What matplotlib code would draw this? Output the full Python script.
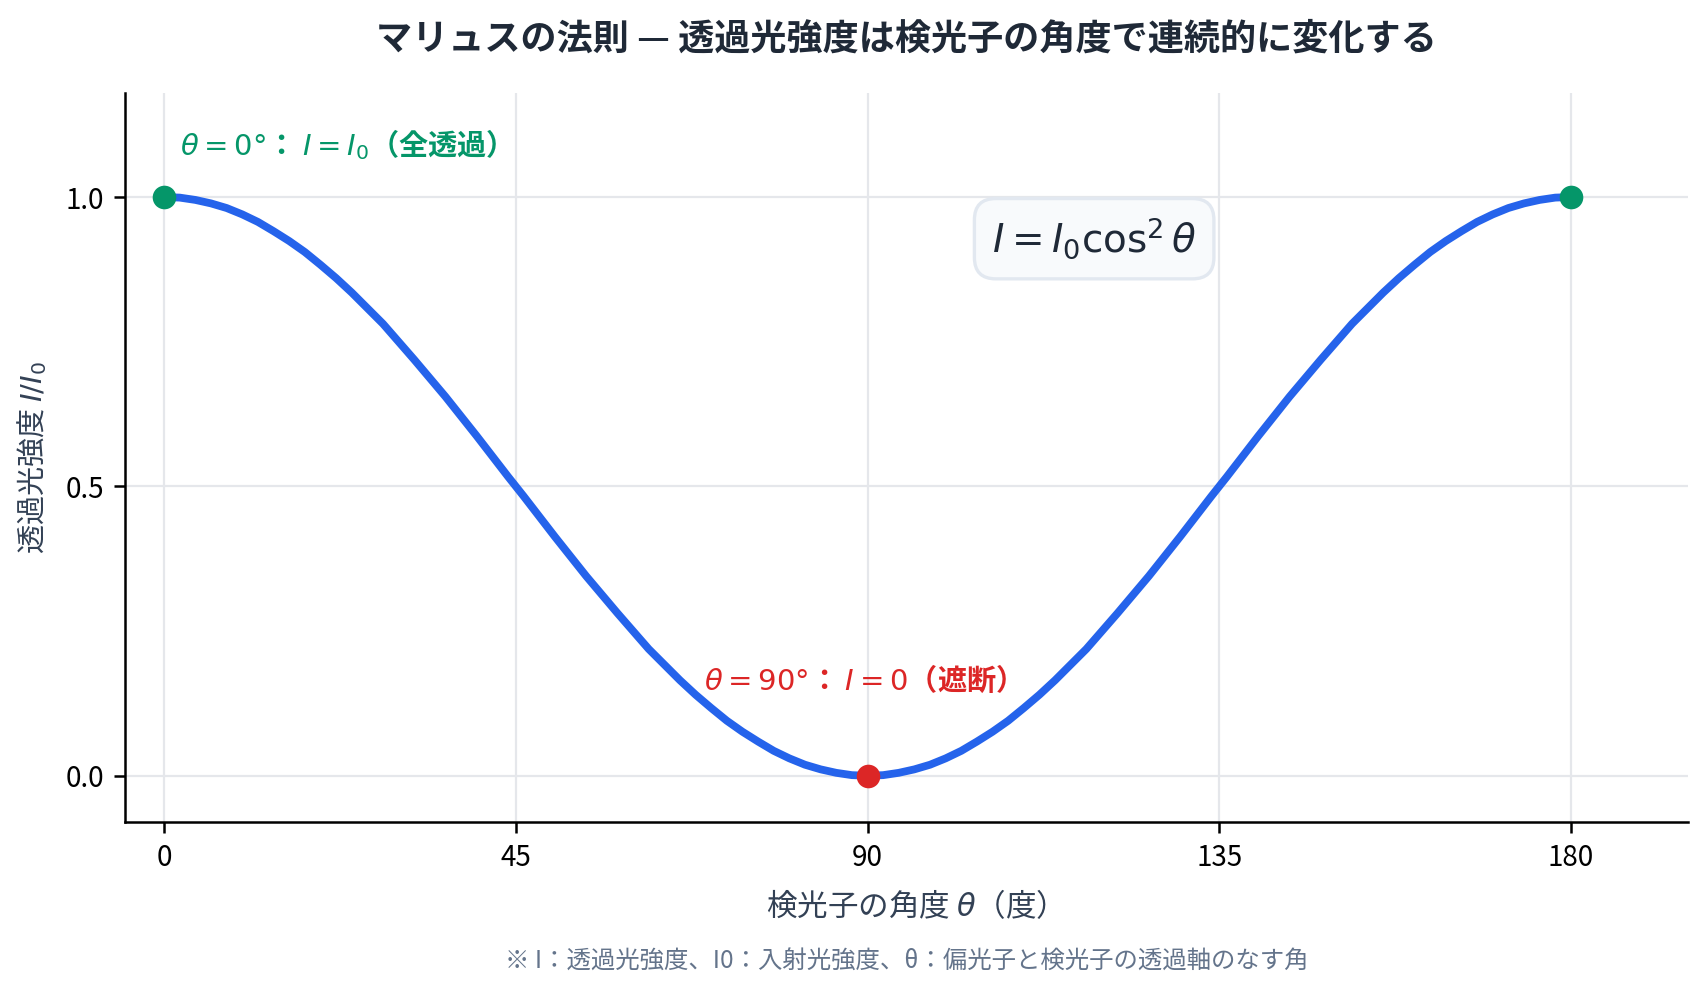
import matplotlib
matplotlib.use('Agg')
import matplotlib.pyplot as plt

plt.rcParams['font.family'] = ['Noto Sans CJK JP', 'DejaVu Sans']
plt.rcParams['mathtext.fontset'] = 'dejavusans'
plt.rcParams['axes.unicode_minus'] = False

# analyser angle (deg), every 2 deg, and transmitted intensity I/I0
angles = list(range(0, 182, 2))
intensity = [1.000, 0.999, 0.995, 0.989, 0.981, 0.970, 0.957, 0.941, 0.924,
             0.905, 0.883, 0.860, 0.835, 0.808, 0.781, 0.750, 0.719, 0.687,
             0.655, 0.621, 0.587, 0.552, 0.517, 0.483, 0.448, 0.413, 0.379,
             0.345, 0.313, 0.281, 0.250, 0.219, 0.192, 0.165, 0.140, 0.117,
             0.095, 0.076, 0.059, 0.043, 0.030, 0.019, 0.011, 0.005, 0.001,
             0.000, 0.001, 0.005, 0.011, 0.019, 0.030, 0.043, 0.059, 0.076,
             0.095, 0.117, 0.140, 0.165, 0.192, 0.219, 0.250, 0.281, 0.313,
             0.345, 0.379, 0.413, 0.448, 0.483, 0.517, 0.552, 0.587, 0.621,
             0.655, 0.687, 0.719, 0.750, 0.781, 0.808, 0.835, 0.860, 0.883,
             0.905, 0.924, 0.941, 0.957, 0.970, 0.981, 0.989, 0.995, 0.999,
             1.000]

max_pts_x = [0, 180]
max_pts_y = [1.0, 1.0]
min_pt_x = [90]
min_pt_y = [0.0]

xticks = [0, 45, 90, 135, 180]
yticks = [0.0, 0.5, 1.0]

BLUE = '#2563eb'
GREEN = '#059669'
RED = '#dc2626'
DARK = '#1f2937'

fig = plt.figure(figsize=(8.495, 4.94), dpi=200)
ax_left, ax_w = 0.0736, 0.92
ax = fig.add_axes([ax_left, 0.168, ax_w, 0.738])
xc = ax_left + ax_w / 2

ax.plot(angles, intensity, color=BLUE, lw=2.8, solid_capstyle='round', zorder=3)
ax.plot(max_pts_x, max_pts_y, 'o', color=GREEN, ms=7.5, zorder=4)
ax.plot(min_pt_x, min_pt_y, 'o', color=RED, ms=7.5, zorder=4)

ax.text(2.0, 1.09, r'$\theta = 0°$： $I = I_0$（全透過）', color=GREEN,
        fontsize=10.5, fontweight='bold', ha='left', va='center')
ax.text(88.5, 0.165, r'$\theta = 90°$： $I = 0$（遮断）', color=RED,
        fontsize=10.5, fontweight='bold', ha='center', va='center')

ax.text(0.62, 0.80, r'$I = I_0 \cos^2\theta$', transform=ax.transAxes,
        fontsize=14, color=DARK, ha='center', va='center',
        bbox=dict(boxstyle='round,pad=0.45,rounding_size=0.55',
                  facecolor='#f8fafc', edgecolor='#e2e8f0', lw=1.2))

ax.set_xlim(-5, 195)
ax.set_ylim(-0.08, 1.18)
ax.set_xticks(xticks)
ax.set_yticks(yticks)
ax.set_xticklabels([str(t) for t in xticks])
ax.set_yticklabels([f'{t:.1f}' for t in yticks])
ax.tick_params(labelsize=10, length=4, width=0.9, colors='black')

ax.grid(True, color='#e5e7eb', lw=0.8)
ax.set_axisbelow(True)
for side in ['top', 'right']:
    ax.spines[side].set_visible(False)
for side in ['left', 'bottom']:
    ax.spines[side].set_linewidth(0.9)

ax.set_xlabel('検光子の角度 $\\theta$（度）', fontsize=11, color='#334155', labelpad=6)
ax.set_ylabel('透過光強度 $I/I_0$', fontsize=10.5, color='#334155', labelpad=6)

fig.text(xc, 0.96, 'マリュスの法則 — 透過光強度は検光子の角度で連続的に変化する',
         fontsize=13, fontweight='bold', color=DARK, ha='center', va='center')
fig.text(xc, 0.027, '※ I：透過光強度、I0：入射光強度、θ：偏光子と検光子の透過軸のなす角',
         fontsize=8.8, color='#64748b', ha='center', va='center')

fig.savefig('out.png', dpi=200)
plt.close(fig)
